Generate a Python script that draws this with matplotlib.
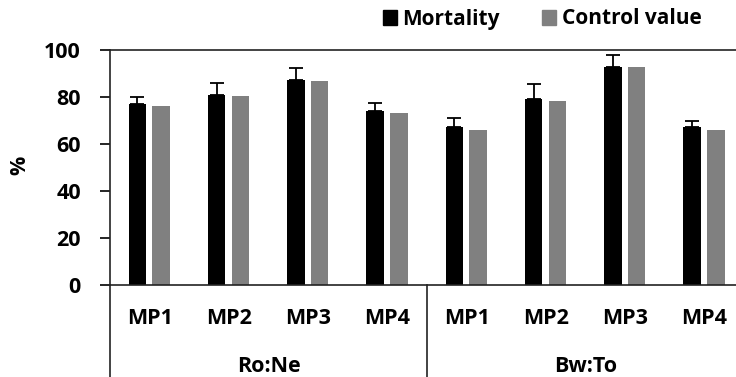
import matplotlib
matplotlib.use("Agg")
import matplotlib.pyplot as plt
import matplotlib.transforms as mtransforms
from matplotlib.lines import Line2D
from matplotlib.patches import Patch
import numpy as np

plt.rcParams['font.family'] = ['Open Sans', 'DejaVu Sans']

groups = ["Ro:Ne", "Bw:To"]
categories = ["MP1", "MP2", "MP3", "MP4", "MP1", "MP2", "MP3", "MP4"]
mortality = [76.9, 81.0, 87.4, 74.0, 67.1, 79.3, 92.6, 67.1]
mortality_err = [3.2, 5.1, 4.9, 3.4, 3.8, 6.1, 5.1, 2.7]
control = [76.3, 80.3, 86.9, 73.3, 65.8, 78.2, 92.6, 65.8]
yticks = [0, 20, 40, 60, 80, 100]

W, H = 736, 377
fig = plt.figure(figsize=(W / 100, H / 100), dpi=100)
ax = fig.add_axes([110 / W, (H - 285) / H, (744 - 110) / W, (285 - 50) / H])

x = np.arange(len(categories))
bw = 0.22
ax.bar(x - 0.155, mortality, bw, color='black', zorder=2)
ax.errorbar(x - 0.155, mortality, yerr=[np.zeros(len(x)), mortality_err],
            fmt='none', ecolor='black', elinewidth=1.3, capsize=5, capthick=1.3, zorder=3)
ax.bar(x + 0.145, control, bw, color='#808080', zorder=2)

FS = 15.5
ax.set_xlim(-0.5, len(categories) - 0.5)
ax.set_ylim(0, 100)
ax.set_yticks(yticks)
ax.set_yticklabels([str(v) for v in yticks], fontsize=FS, fontweight='bold')
ax.tick_params(axis='y', length=7, width=1.2, pad=14)
ax.set_xticks([])
ax.spines['right'].set_visible(False)
for s in ['left', 'bottom', 'top']:
    ax.spines[s].set_linewidth(1.2)
    ax.spines[s].set_color('#222222')

fig.text(20 / W, 1 - 165 / H, '%', rotation=90, ha='center', va='center',
         fontsize=FS, fontweight='bold')

trans = mtransforms.blended_transform_factory(ax.transData, fig.transFigure)
for i, c in enumerate(categories):
    ax.text(i, 1 - 318 / H, c, transform=trans, ha='center', va='center',
            fontsize=FS, fontweight='bold')
for gi, g in enumerate(groups):
    ax.text(gi * 4 + 1.5, 1 - 367 / H, g, transform=trans, ha='center', va='center',
            fontsize=FS, fontweight='bold')
for xs in [-0.5, 3.5, 7.5]:
    ax.add_line(Line2D([xs, xs], [1 - 285 / H, 0], transform=trans, color='#222222',
                       lw=1.2, clip_on=False))

handles = [Patch(color='black', label='Mortality'), Patch(color='#808080', label='Control value')]
fig.legend(handles=handles, loc='center', bbox_to_anchor=(542 / W, 1 - 19 / H), ncol=2,
           frameon=False, prop={'size': 15, 'weight': 'bold'}, handlelength=0.7,
           handleheight=0.7, handletextpad=0.25, columnspacing=2.0)

fig.savefig('out.png', dpi=100)
